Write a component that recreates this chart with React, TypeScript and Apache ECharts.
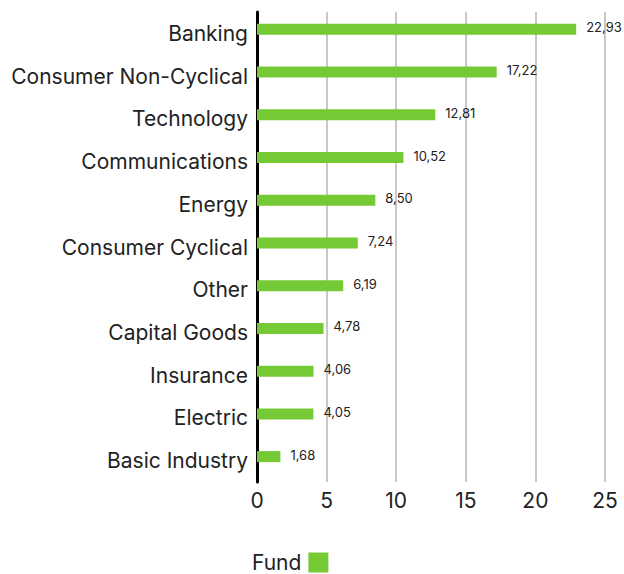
import React, { useEffect, useRef } from "react";
import * as echarts from "echarts";

const categories = [
  "Banking",
  "Consumer Non-Cyclical",
  "Technology",
  "Communications",
  "Energy",
  "Consumer Cyclical",
  "Other",
  "Capital Goods",
  "Insurance",
  "Electric",
  "Basic Industry",
];
const fundValues = [22.93, 17.22, 12.81, 10.52, 8.5, 7.24, 6.19, 4.78, 4.06, 4.05, 1.68];
const emptyValues = categories.map(() => null);
const seriesName = "Fund";
const FONT = "Inter, 'Noto Sans', sans-serif";

export default function App() {
  const ref = useRef<HTMLDivElement>(null);
  useEffect(() => {
    if (!ref.current) return;
    const chart = echarts.init(ref.current, undefined, { renderer: "svg" });
    chart.setOption({
      animation: false,
      textStyle: { fontFamily: FONT },
      grid: { left: 257, right: 19, top: 12, bottom: 92, containLabel: false },
      legend: {
        data: [seriesName],
        left: 252,
        top: 552,
        padding: 0,
        align: "right",
        itemWidth: 20,
        itemHeight: 20,
        itemGap: 10,
        icon: "rect",
        textStyle: {
          fontSize: 21,
          lineHeight: 21,
          color: "#222",
          fontFamily: FONT,
          padding: [0, 2, 0, 0],
        },
      },
      xAxis: {
        type: "value",
        min: 0,
        max: 25,
        interval: 5,
        axisLine: { show: false },
        axisTick: { show: false },
        splitLine: { show: true, lineStyle: { color: "#c8c8c8", width: 2 } },
        axisLabel: { fontSize: 21, color: "#222", margin: 8, fontFamily: FONT },
      },
      yAxis: {
        type: "category",
        data: categories,
        inverse: true,
        axisLine: { show: true, lineStyle: { color: "#000", width: 3 } },
        axisTick: { show: false },
        axisLabel: { fontSize: 21, color: "#222", margin: 9, fontFamily: FONT },
      },
      series: [
        {
          name: seriesName,
          type: "bar",
          data: fundValues,
          barWidth: 11,
          barGap: "-27%",
          itemStyle: { color: "#74C935" },
          label: {
            show: true,
            position: "right",
            distance: 10,
            fontSize: 13,
            color: "#222",
            fontFamily: FONT,
            offset: [0, -2],
            formatter: (p: any) => Number(p.value).toFixed(2).replace(".", ","),
          },
        },
        {
          name: "hidden",
          type: "bar",
          data: emptyValues,
          barWidth: 11,
          silent: true,
        },
      ],
    });
    return () => chart.dispose();
  }, []);
  return (
    <div
      ref={ref}
      style={{ position: "absolute", left: 0, top: 0, width: 624, height: 574 }}
    />
  );
}
